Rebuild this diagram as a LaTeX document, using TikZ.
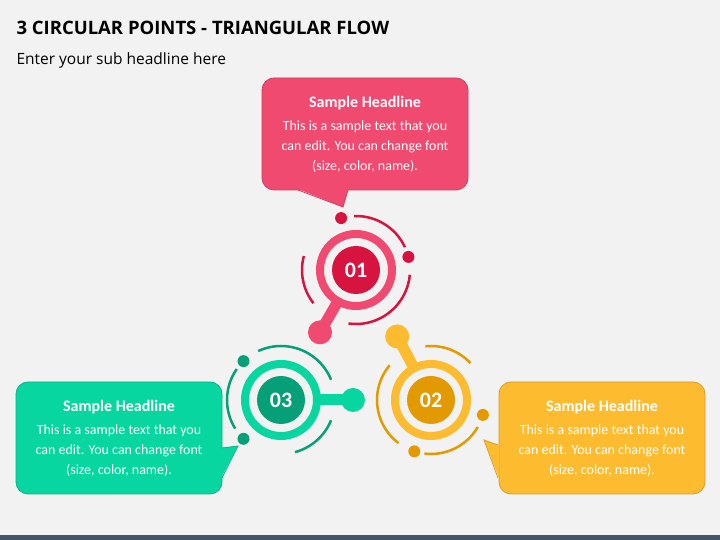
\documentclass[tikz,border=0pt]{standalone}
\usepackage{fontspec}
\setmainfont{Carlito}
\newfontfamily\headfont{Open Sans}
\usetikzlibrary{positioning}

\definecolor{pinkL}{HTML}{F04A70}
\definecolor{pinkD}{HTML}{D7143F}
\definecolor{yellowL}{HTML}{FDBB30}
\definecolor{yellowD}{HTML}{E39A00}
\definecolor{greenL}{HTML}{07D6A0}
\definecolor{greenD}{HTML}{05A077}
\definecolor{slate}{HTML}{44546A}
\definecolor{paper}{HTML}{F2F2F2}

\tikzset{
  card/.style={fill=#1, draw=#1!85!black, line width=0.8pt, rounded corners=12pt,
    minimum width=206pt, minimum height=112pt, text=white, align=center,
    inner sep=0pt, font=\fontsize{14}{20}\selectfont},
  num/.style={circle, minimum size=48pt, inner sep=0pt, text=white,
    font=\bfseries\fontsize{22}{22}\selectfont},
  ring/.style={line width=8pt},
  orbit/.style={line width=2.5pt},
}

\newcommand{\cardtext}{{\bfseries\fontsize{16}{20}\selectfont Sample Headline}\\[3pt]
This is a sample text that you\\can edit. You can change font\\(size, color, name).}

\begin{document}
\begin{tikzpicture}[x=1pt, y=1pt]

\fill[paper] (0,0) rectangle (720,540);
\useasboundingbox (0,0) rectangle (720,540);
\fill[slate] (0,0) rectangle (720,5);

\node [anchor=west, font=\headfont\bfseries\fontsize{18.5}{22}\selectfont] (title) at (13,512) {3 CIRCULAR POINTS - TRIANGULAR FLOW};
\node [anchor=west, font=\headfont\fontsize{15.5}{20}\selectfont] (sub) at (13,480) {Enter your sub headline here};

% callouts
\node [card=pinkL  ] (box1) at (365,406) {\cardtext};
\node [card=yellowL] (box2) at (602,102) {\cardtext};
\node [card=greenL ] (box3) at (119,102) {\cardtext};

\coordinate (tip1) at (343,333);
\coordinate (tip2) at (484,100);
\coordinate (tip3) at (238,94);

\fill [pinkL] (298,351) -- (tip1) -- (348,351) -- cycle;
\draw [pinkL!85!black, line width=0.8pt] (298,350) -- (tip1) -- (348,350);
\fill [yellowL] (499,95) -- (tip2) -- (499,62) -- cycle;
\draw [yellowL!85!black, line width=0.8pt] (498,95) -- (tip2) -- (498,62);
\fill [greenL] (221,92) -- (tip3) -- (221,62) -- cycle;
\draw [greenL!85!black, line width=0.8pt] (222,92) -- (tip3) -- (222,62);

% circular points
\foreach \nm/\x/\y/\lt/\dk/\s in {1/356/270/pinkL/pinkD/240, 2/431/140/yellowL/yellowD/118, 3/281/140/greenL/greenD/0} {
  \node [num, fill=\dk] (n\nm) at (\x,\y) {0\nm};
  \draw [ring, \lt] (n\nm.center) circle (36pt);
  \draw [line width=11pt, \lt] (n\nm.center) ++(\s:38pt) -- ++(\s:34pt);
  \fill [\lt] (n\nm.center) ++(\s:72pt) circle (12pt);
  \draw [orbit, \dk] (n\nm.center) ++(\s+22:54pt) arc [start angle=\s+22, end angle=\s+115, radius=54pt];
  \draw [orbit, \dk] (n\nm.center) ++(\s+145:54pt) arc [start angle=\s+145, end angle=\s+212, radius=54pt];
  \draw [orbit, \dk] (n\nm.center) ++(\s+285:54pt) arc [start angle=\s+285, end angle=\s+338, radius=54pt];
  \fill [\dk] (n\nm.center) ++(\s+134:54pt) circle (6pt);
  \fill [\dk] (n\nm.center) ++(\s+226:54pt) circle (6pt);
}

\end{tikzpicture}
\end{document}
